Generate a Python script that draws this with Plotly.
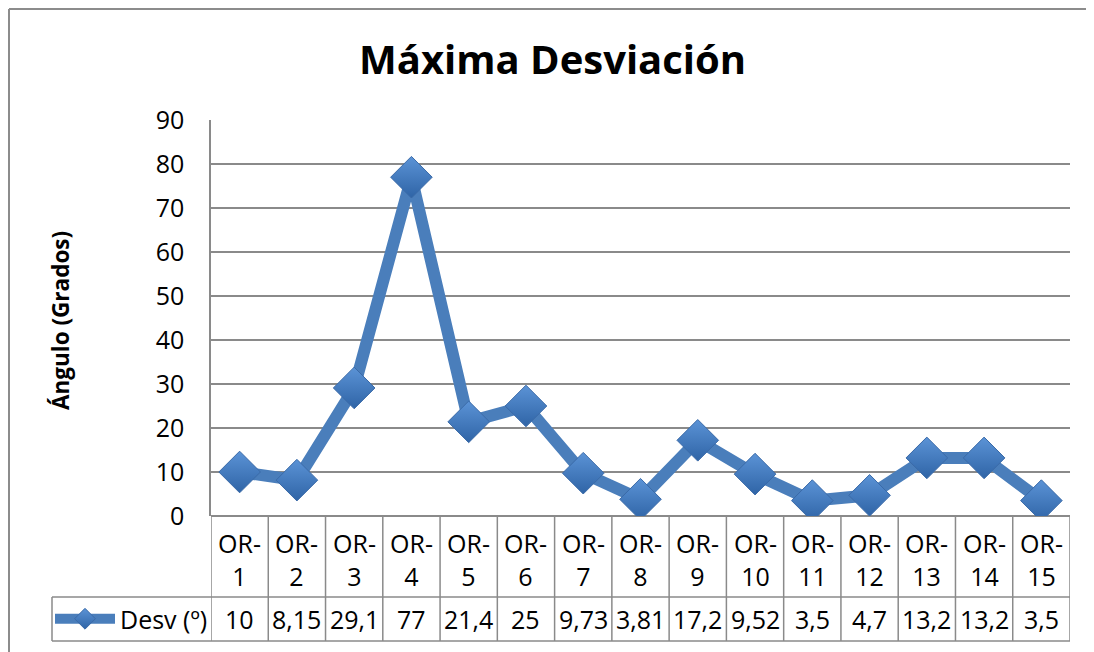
import plotly.graph_objects as go

# ---- data ----
categories = ["OR-1", "OR-2", "OR-3", "OR-4", "OR-5", "OR-6", "OR-7", "OR-8",
              "OR-9", "OR-10", "OR-11", "OR-12", "OR-13", "OR-14", "OR-15"]
desv_values = [10, 8.15, 29.1, 77, 21.4, 25, 9.73, 3.81, 17.2, 9.52, 3.5, 4.7, 13.2, 13.2, 3.5]
series_name = "Desv (º)"
y_ticks = [0, 10, 20, 30, 40, 50, 60, 70, 80, 90]
title_text = "Máxima Desviación"
y_title = "Ángulo (Grados)"

W, H = 1094, 652
OFF = 8  # page body margin in the browser
FONT = "Open Sans"
GRID = "#8a8a8a"
BLUE = "#4A7EBB"


def px_x(x):
    return (x - OFF) / W


def px_y(y):
    return (H - (y - OFF)) / H


def fmt(v):
    return ("%g" % v).replace(".", ",")


x_idx = list(range(len(categories)))

fig = go.Figure()
fig.add_trace(go.Scatter(
    x=x_idx, y=desv_values, name=series_name,
    mode="lines+markers",
    line=dict(color=BLUE, width=12),
    marker=dict(symbol="diamond", size=32, color="#5B93D6",
                gradient=dict(type="vertical", color="#2F64A6"),
                line=dict(color="#3A6AA8", width=1)),
    showlegend=True,
))

x0p, x1p = px_x(211), px_x(1070)
y_axis_bottom, y_axis_top = px_y(516), px_y(120)
row1 = px_y(597)
row2 = px_y(641)

shapes = []
for i in range(len(categories) + 1):
    shapes.append(dict(type="line", xref="x", yref="paper", x0=i - 0.5, x1=i - 0.5,
                       y0=row2, y1=y_axis_bottom, line=dict(color=GRID, width=1.5)))
for yy in (row1, row2):
    shapes.append(dict(type="line", xref="paper", yref="paper", x0=px_x(52), x1=x1p,
                       y0=yy, y1=yy, line=dict(color=GRID, width=1.5)))
shapes.append(dict(type="line", xref="paper", yref="paper", x0=px_x(52), x1=px_x(52),
                   y0=row2, y1=row1, line=dict(color=GRID, width=1.5)))
# chart area border (left + top)
bx = 1.0 / W
by = 1 - 1.0 / H
shapes.append(dict(type="line", xref="paper", yref="paper", x0=bx, x1=bx,
                   y0=-0.05, y1=by, line=dict(color="#8c8c8c", width=2)))
shapes.append(dict(type="line", xref="paper", yref="paper", x0=bx, x1=1.05,
                   y0=by, y1=by, line=dict(color="#8c8c8c", width=2)))

annotations = []
for i, c in enumerate(categories):
    a, b = c.split("-")
    annotations.append(dict(x=i, xref="x", y=px_y(559), yref="paper",
                            text=a + "-<br>" + b, showarrow=False,
                            font=dict(family=FONT, size=25, color="black"),
                            xanchor="center", yanchor="middle"))
for i, v in enumerate(desv_values):
    annotations.append(dict(x=i, xref="x", y=px_y(619), yref="paper",
                            text=fmt(v), showarrow=False,
                            font=dict(family=FONT, size=25, color="black"),
                            xanchor="center", yanchor="middle"))
annotations.append(dict(x=px_x(552), xref="paper", y=px_y(58), yref="paper",
                        text="<b>" + title_text + "</b>", showarrow=False,
                        font=dict(family=FONT, size=40, color="black"),
                        xanchor="center", yanchor="middle"))
annotations.append(dict(x=px_x(60), xref="paper", y=px_y(321), yref="paper",
                        text="<b>" + y_title + "</b>", showarrow=False, textangle=-90,
                        font=dict(family=FONT, size=22.5, color="black"),
                        xanchor="center", yanchor="middle"))

fig.update_layout(
    width=W, height=H,
    margin=dict(l=0, r=0, t=0, b=0, autoexpand=False),
    paper_bgcolor="white", plot_bgcolor="white",
    xaxis=dict(domain=[x0p, x1p], range=[-0.5, len(categories) - 0.5],
               showticklabels=False, showgrid=False, zeroline=False,
               showline=False, fixedrange=True, automargin=False),
    yaxis=dict(domain=[y_axis_bottom, y_axis_top], range=[0, 90],
               tickvals=y_ticks, ticktext=[str(t) for t in y_ticks],
               showgrid=True, gridcolor=GRID, gridwidth=1.5,
               zeroline=True, zerolinecolor=GRID, zerolinewidth=1.5,
               showline=True, linecolor=GRID, linewidth=1.5,
               ticks="", ticklabelstandoff=20, automargin=False,
               tickfont=dict(family=FONT, size=25, color="black")),
    legend=dict(x=px_x(50), y=px_y(619), xanchor="left", yanchor="middle",
                bgcolor="rgba(0,0,0,0)", itemwidth=60,
                font=dict(family=FONT, size=25, color="black")),
    shapes=shapes,
    annotations=annotations,
    font=dict(family=FONT),
)

fig.write_html("out.html")
